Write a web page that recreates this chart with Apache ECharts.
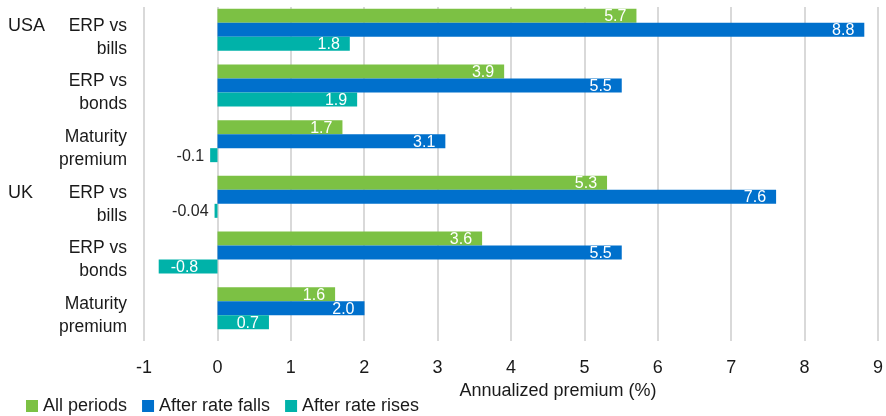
<!DOCTYPE html>
<html>
<head>
<meta charset="utf-8">
<script src="https://cdn.jsdelivr.net/npm/echarts@6/dist/echarts.min.js"></script>
<style>
  html, body { margin: 0; padding: 0; background: #ffffff; }
  #chart { width: 886px; height: 416px; }
</style>
</head>
<body>
<div id="chart"></div>
<script>
// Category rows (top to bottom) and the market each block belongs to
const categories = ['ERP vs\nbills', 'ERP vs\nbonds', 'Maturity\npremium', 'ERP vs\nbills', 'ERP vs\nbonds', 'Maturity\npremium'];
const groups = ['USA', '', '', 'UK', '', ''];

// Annualized premium (%) per row
const allPeriods = [5.7, 3.9, 1.7, 5.3, 3.6, 1.6];
const afterRateFalls = [8.8, 5.5, 3.1, 7.6, 5.5, 2.0];
const afterRateRises = [1.8, 1.9, -0.1, -0.04, -0.8, 0.7];

// Value axis ticks
const xTicks = [-1, 0, 1, 2, 3, 4, 5, 6, 7, 8, 9];

const seriesNames = ['All periods', 'After rate falls', 'After rate rises'];
const seriesColors = ['#7cc144', '#0070cc', '#00b2a9'];

const FONT = 'Liberation Sans, Arial, sans-serif';
const TEXT = '#1a1a1a';

function fmt(v) {
  return (v !== 0 && Math.abs(v) < 0.1) ? v.toFixed(2) : v.toFixed(1);
}

// Labels sit inside the bar end; tiny negative bars get their label outside
function toItems(values) {
  return values.map(v => {
    let label;
    if (v >= 0) {
      label = { position: 'insideRight', distance: 10, color: '#ffffff' };
    } else if (Math.abs(v) >= 0.5) {
      label = { position: 'insideLeft', distance: 12, color: '#ffffff' };
    } else {
      label = { position: 'left', distance: 6, color: '#262626' };
    }
    return { value: v, label: label };
  });
}

// a thin empty first line nudges the row labels slightly below the band centre
const spacer = { sp: { fontSize: 1, lineHeight: 5 } };

const chart = echarts.init(document.getElementById('chart'), null, { renderer: 'canvas' });

const gridLeft = 144, gridRight = 7, plotHeight = 334;

chart.setOption({
  animation: false,
  textStyle: { fontFamily: FONT },
  legend: {
    data: seriesNames,
    left: 21,
    top: 392,
    icon: 'rect',
    itemWidth: 12,
    itemHeight: 12,
    itemGap: 15,
    textStyle: { fontFamily: FONT, fontSize: 18, color: TEXT }
  },
  grid: [
    // axes, gridlines and row labels
    { left: gridLeft, right: gridRight, top: 7, height: plotHeight },
    // bars
    { left: gridLeft, right: gridRight, top: 2, height: plotHeight }
  ],
  xAxis: [
    {
      gridIndex: 0,
      type: 'value',
      min: xTicks[0],
      max: xTicks[xTicks.length - 1],
      interval: 1,
      name: 'Annualized premium (%)',
      nameLocation: 'middle',
      nameGap: 40,
      nameTextStyle: { fontFamily: FONT, fontSize: 18, color: TEXT, padding: [0, 0, 0, 94] },
      axisLine: { show: false },
      axisTick: { show: false },
      axisLabel: { fontFamily: FONT, fontSize: 18, color: TEXT, margin: 18 },
      splitLine: { show: true, lineStyle: { color: '#d9d9d9', width: 2 } }
    },
    {
      gridIndex: 1,
      type: 'value',
      min: xTicks[0],
      max: xTicks[xTicks.length - 1],
      interval: 1,
      show: false,
      splitLine: { show: false }
    }
  ],
  yAxis: [
    {
      gridIndex: 0,
      type: 'category',
      inverse: true,
      data: categories,
      axisLine: { show: false },
      axisTick: { show: false },
      splitLine: { show: false },
      axisLabel: {
        interval: 0,
        margin: 17,
        align: 'right',
        fontFamily: FONT,
        fontSize: 17.5,
        lineHeight: 23,
        color: TEXT,
        rich: spacer,
        formatter: v => '{sp|\u00a0}\n' + v
      }
    },
    {
      gridIndex: 0,
      type: 'category',
      inverse: true,
      position: 'left',
      data: groups,
      axisLine: { show: false },
      axisTick: { show: false },
      splitLine: { show: false },
      axisLabel: {
        interval: 0,
        margin: 136,
        align: 'left',
        fontFamily: FONT,
        fontSize: 18,
        lineHeight: 23,
        color: TEXT,
        rich: spacer,
        formatter: v => v ? '{sp|\u00a0}\n' + v + '\n\u00a0' : ''
      }
    },
    {
      gridIndex: 1,
      type: 'category',
      inverse: true,
      data: categories,
      show: false
    }
  ],
  series: [allPeriods, afterRateFalls, afterRateRises].map((vals, i) => ({
    name: seriesNames[i],
    type: 'bar',
    xAxisIndex: 1,
    yAxisIndex: 2,
    barWidth: 14,
    barGap: '0%',
    itemStyle: { color: seriesColors[i] },
    label: {
      show: true,
      fontFamily: FONT,
      fontSize: 16,
      offset: [0, 1],
      formatter: p => fmt(p.value)
    },
    data: toItems(vals)
  }))
});
</script>
</body>
</html>
